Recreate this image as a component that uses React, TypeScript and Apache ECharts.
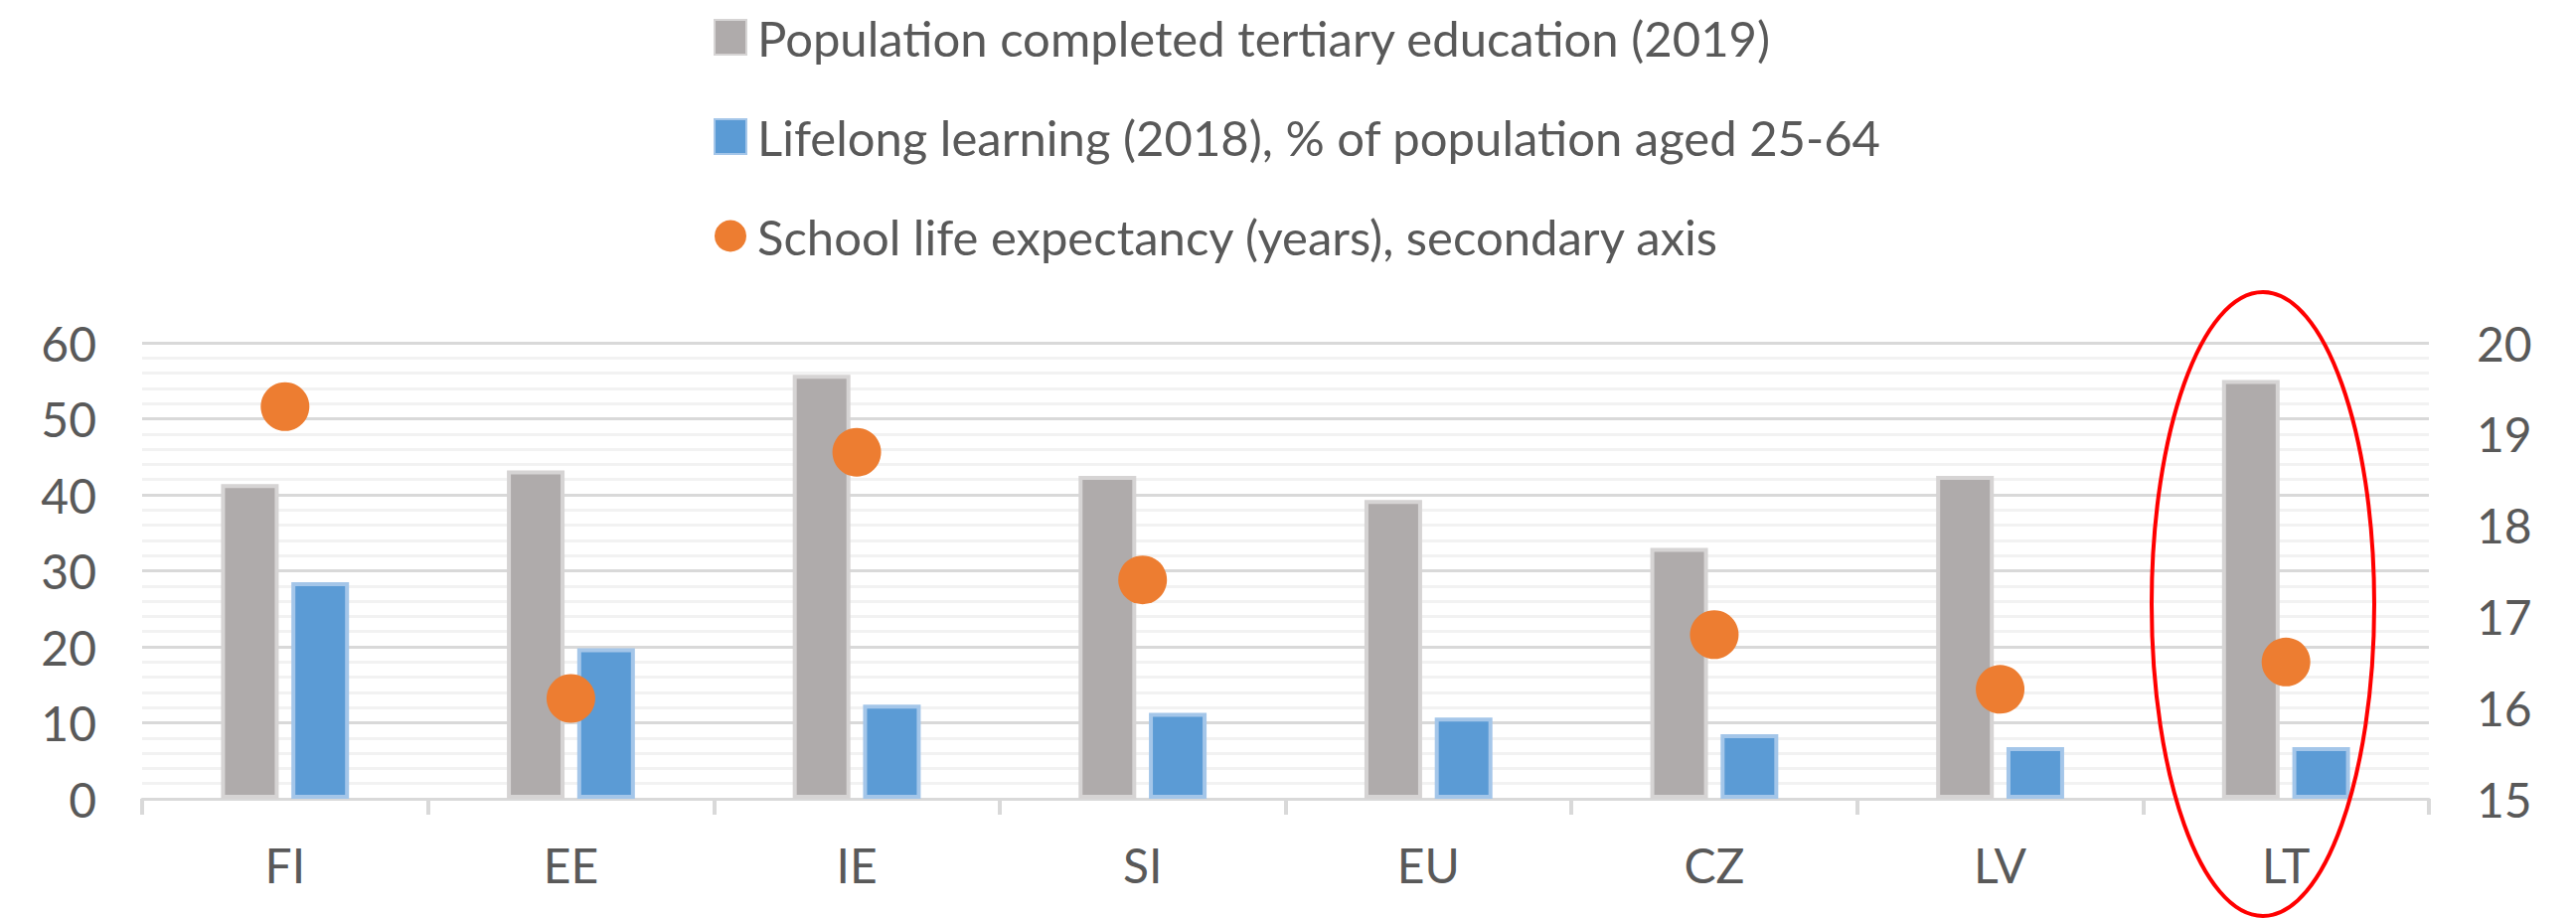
import React, { useEffect, useRef } from "react";
import * as echarts from "echarts";

const categories = ["FI", "EE", "IE", "SI", "EU", "CZ", "LV", "LT"];
const tertiaryEducation = [41.4, 43.2, 55.8, 42.5, 39.3, 33.0, 42.5, 55.1];
const lifelongLearning = [28.5, 19.8, 12.4, 11.3, 10.7, 8.5, 6.8, 6.8];
const schoolLifeExpectancy: (number | null)[] = [19.3, 16.1, 18.8, 17.4, null, 16.8, 16.2, 16.5];
const leftTicks = { min: 0, max: 60, interval: 10 };
const rightTicks = { min: 15, max: 20, interval: 1 };

const seriesNames = [
  "Population completed tertiary education (2019)",
  "Lifelong learning (2018), % of population aged 25-64",
  "School life expectancy (years), secondary axis",
];

const FONT = "Lato, 'Noto Sans', sans-serif";
const TEXT = "#595959";

export default function App() {
  const ref = useRef<HTMLDivElement>(null);
  useEffect(() => {
    document.body.style.margin = "0";
    if (!ref.current) return;
    const chart = echarts.init(ref.current, null, { renderer: "svg" });
    chart.setOption({
      animation: false,
      backgroundColor: "#ffffff",
      textStyle: { fontFamily: FONT },
      grid: { left: 143, right: 148, top: 345, bottom: 121, containLabel: false },
      legend: {
        orient: "vertical",
        left: 718,
        top: 13,
        padding: 0,
        itemWidth: 32,
        itemHeight: 35,
        itemGap: 51,
        selectedMode: false,
        textStyle: { fontSize: 49, color: TEXT, fontFamily: FONT, padding: [0, 0, 0, 6] },
        data: [
          { name: seriesNames[0], icon: "rect" },
          { name: seriesNames[1], icon: "rect" },
          { name: seriesNames[2], icon: "circle" },
        ],
      },
      xAxis: {
        type: "category",
        data: categories,
        boundaryGap: true,
        axisLine: { show: true, lineStyle: { color: "#d9d9d9", width: 3 } },
        axisTick: { show: true, alignWithLabel: false, length: 16, lineStyle: { color: "#d9d9d9", width: 4 } },
        axisLabel: { fontSize: 48, color: TEXT, fontFamily: FONT, margin: 42 },
        splitLine: { show: false },
      },
      yAxis: [
        {
          type: "value",
          min: leftTicks.min,
          max: leftTicks.max,
          interval: leftTicks.interval,
          axisLine: { show: false },
          axisTick: { show: false },
          axisLabel: { fontSize: 48, color: TEXT, fontFamily: FONT, margin: 46 },
          splitLine: { show: true, lineStyle: { color: "#d9d9d9", width: 3 } },
          minorTick: { show: false, splitNumber: 5 },
          minorSplitLine: { show: true, lineStyle: { color: "#f2f2f2", width: 3 } },
        },
        {
          type: "value",
          min: rightTicks.min,
          max: rightTicks.max,
          interval: rightTicks.interval,
          position: "right",
          axisLine: { show: false },
          axisTick: { show: false },
          axisLabel: { fontSize: 48, color: TEXT, fontFamily: FONT, margin: 48 },
          splitLine: { show: false },
        },
      ],
      series: [
        {
          name: seriesNames[0],
          type: "bar",
          yAxisIndex: 0,
          data: tertiaryEducation,
          barWidth: 58,
          barGap: "22%",
          itemStyle: { color: "#afabab", borderColor: "#d6d4d4", borderWidth: 4 },
        },
        {
          name: seriesNames[1],
          type: "bar",
          yAxisIndex: 0,
          data: lifelongLearning,
          barWidth: 58,
          barGap: "22%",
          itemStyle: { color: "#5b9bd5", borderColor: "#a4c6e9", borderWidth: 4 },
        },
        {
          name: seriesNames[2],
          type: "scatter",
          yAxisIndex: 1,
          data: schoolLifeExpectancy,
          symbol: "circle",
          symbolSize: 49,
          itemStyle: { color: "#ed7d31", opacity: 1 },
          z: 5,
        },
      ],
      graphic: [
        {
          type: "ellipse",
          shape: { cx: 2277, cy: 608, rx: 112, ry: 314 },
          style: { fill: "none", stroke: "#ff0000", lineWidth: 4 },
          z: 100,
        },
      ],
    });
    return () => chart.dispose();
  }, []);
  return (
    <div
      ref={ref}
      style={{ position: "fixed", left: 0, top: 0, width: 2592, height: 925 }}
    />
  );
}
